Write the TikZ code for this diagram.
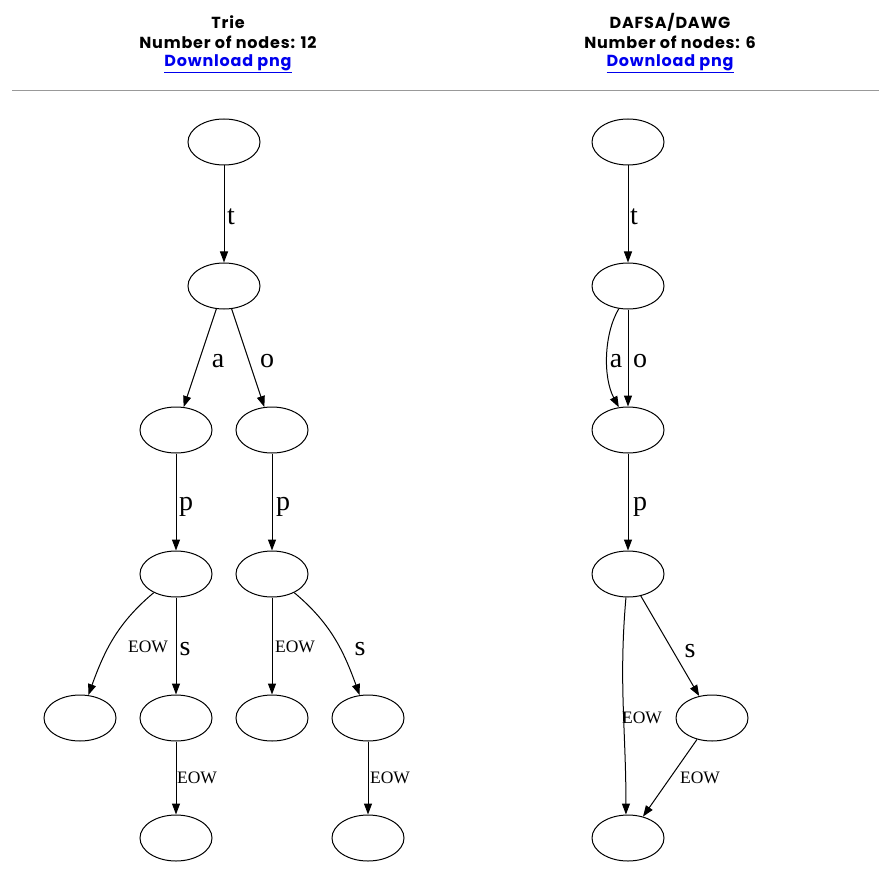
\documentclass[tikz,border=0pt]{standalone}
\usepackage{fontspec}
\setmainfont{Liberation Serif}
\newfontfamily\headfont[LetterSpace=5]{Poppins}
\usetikzlibrary{arrows.meta,shapes.geometric}
\definecolor{linkblue}{RGB}{0,0,238}
\begin{document}
\begin{tikzpicture}[x=1pt,y=-1pt,
  state/.style={draw,ellipse,line width=1pt,minimum width=72pt,minimum height=46pt,inner sep=0pt},
  edge/.style={draw,line width=1pt,-{Triangle[length=11pt,width=8pt]}},
  big/.style={font=\fontsize{28}{30}\selectfont,inner sep=0pt},
  small/.style={font=\fontsize{17.5}{19}\selectfont,inner sep=0pt},
  head/.style={font=\headfont\bfseries\fontsize{16}{18}\selectfont,inner sep=0pt},
  link/.style={font=\headfont\bfseries\fontsize{16}{18}\selectfont,text=linkblue,inner sep=0pt}]
\useasboundingbox (0,0) rectangle (896,877);

% headers
\node[head] (h1) at (228,22) {Trie};
\node[head] (h2) at (228,42) {Number of nodes: 12};
\node[link] (h3) at (228,64) {\underline{Download png}};
\node[head] (g1) at (670,22) {DAFSA/DAWG};
\node[head] (g2) at (670,42) {Number of nodes: 6};
\node[link] (g3) at (670,64) {\underline{Download png}};
\coordinate (ruleL) at (12,91);
\coordinate (ruleR) at (879,91);
\draw[gray!80,line width=1pt] (ruleL) -- (ruleR);

% trie
\node[state] (r)    at (224,142) {};
\node[state] (t)    at (224,286) {};
\node[state] (ta)   at (176,430) {};
\node[state] (to)   at (272,430) {};
\node[state] (tap)  at (176,574) {};
\node[state] (top)  at (272,574) {};
\node[state] (tapE) at (80,718) {};
\node[state] (taps) at (176,718) {};
\node[state] (topE) at (272,718) {};
\node[state] (tops) at (368,718) {};
\node[state] (tapsE) at (176,838) {};
\node[state] (topsE) at (368,838) {};

\draw[edge] (r) -- (t);
\draw[edge] (t) -- (ta);
\draw[edge] (t) -- (to);
\draw[edge] (ta) -- (tap);
\draw[edge] (to) -- (top);
\draw[edge] (tap) to[out=-140,in=70] (tapE);
\draw[edge] (tap) -- (taps);
\draw[edge] (top) -- (topE);
\draw[edge] (top) to[out=-40,in=110] (tops);
\draw[edge] (taps) -- (tapsE);
\draw[edge] (tops) -- (topsE);

\node[big] (lt) at (231,217) {t};
\node[big] (la) at (218,361) {a};
\node[big] (lo) at (267,361) {o};
\node[big] (lp1) at (186,507) {p};
\node[big] (lp2) at (283,507) {p};
\node[small] (le1) at (148,647) {EOW};
\node[big] (ls1) at (185,649) {s};
\node[small] (le2) at (295,647) {EOW};
\node[big] (ls2) at (360,649) {s};
\node[small] (le3) at (197,778) {EOW};
\node[small] (le4) at (390,778) {EOW};

% dawg
\node[state] (d0) at (628,142) {};
\node[state] (d1) at (628,286) {};
\node[state] (d2) at (628,430) {};
\node[state] (d3) at (628,574) {};
\node[state] (d4) at (712,718) {};
\node[state] (d5) at (628,838) {};

\draw[edge] (d0) -- (d1);
\draw[edge] (d1.-112) .. controls +(-15,25) and +(-16,-30) .. (d2.112);
\draw[edge] (d1) -- (d2);
\draw[edge] (d2) -- (d3);
\draw[edge] (d3.-95) to[out=-95,in=90] (d5.95);
\draw[edge] (d3) -- (d4);
\draw[edge] (d4) -- (d5);

\node[big] (mt) at (634,217) {t};
\node[big] (ma) at (616,361) {a};
\node[big] (mo) at (640,361) {o};
\node[big] (mp) at (640,507) {p};
\node[big] (ms) at (690,651) {s};
\node[small] (me1) at (642,718) {EOW};
\node[small] (me2) at (700,778) {EOW};
\end{tikzpicture}
\end{document}
